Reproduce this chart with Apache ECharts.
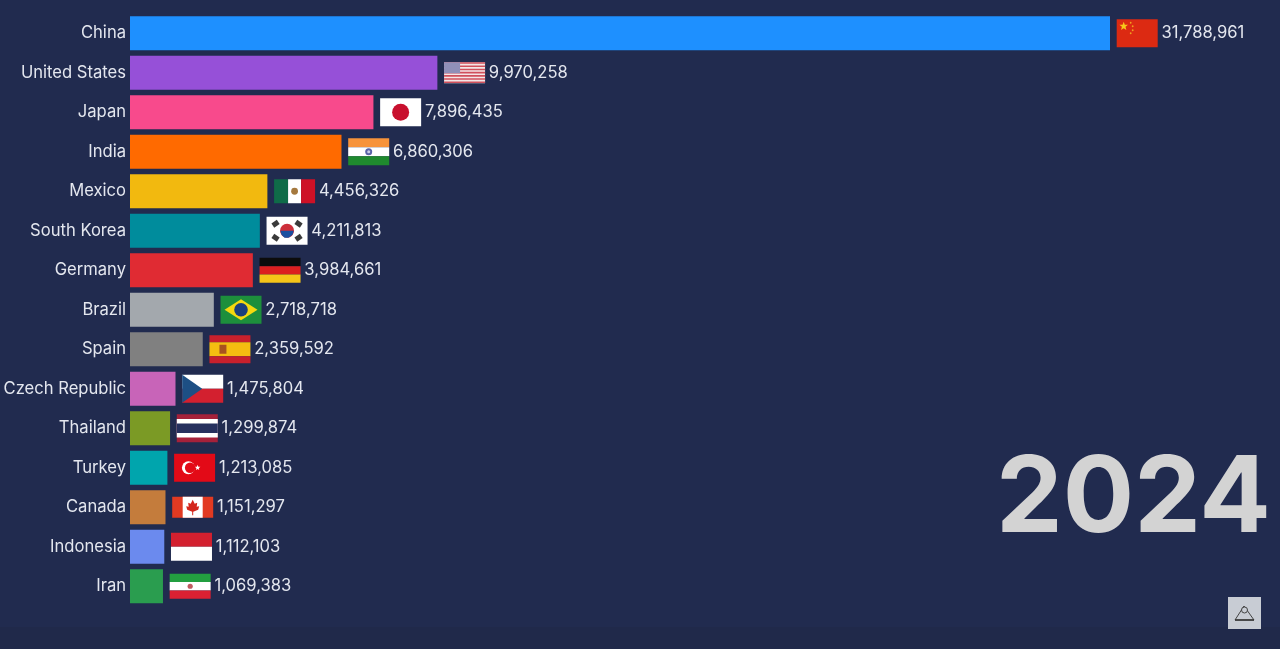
<!DOCTYPE html>
<html>
<head>
<meta charset="utf-8">
<title>Top countries 2024</title>
<script src="https://cdn.jsdelivr.net/npm/echarts@6/dist/echarts.min.js"></script>
<style>
  html, body { margin: 0; padding: 0; background: #212b4f; }
  #bar-chart { width: 1280px; height: 649px; }
</style>
</head>
<body>
<div id="bar-chart"></div>
<script>
var categories = ['China', 'United States', 'Japan', 'India', 'Mexico', 'South Korea', 'Germany', 'Brazil', 'Spain', 'Czech Republic', 'Thailand', 'Turkey', 'Canada', 'Indonesia', 'Iran'];
var values = [31788961, 9970258, 7896435, 6860306, 4456326, 4211813, 3984661, 2718718, 2359592, 1475804, 1299874, 1213085, 1151297, 1112103, 1069383];
var year = '2024';

var barColors = ['#1e90ff', '#9650d8', '#f84a8c', '#ff6a00', '#f2b90f', '#008c9c', '#e02b33', '#a3a8ad', '#808080', '#c864b8', '#7b9a25', '#00a5ad', '#c47c3c', '#6b8aee', '#2a9d4f'];

// ==============================================================
// small helpers for the flags (local coords inside one flag)
// ==============================================================
function rect(x, y, w, h, fill) {
  return { type: 'rect', shape: { x: x, y: y, width: w, height: h }, style: { fill: fill } };
}
function circle(cx, cy, r, fill) {
  return { type: 'circle', shape: { cx: cx, cy: cy, r: r }, style: { fill: fill } };
}
function poly(points, fill) {
  return { type: 'polygon', shape: { points: points }, style: { fill: fill } };
}
function star(cx, cy, r, fill) {
  var pts = [];
  for (var i = 0; i < 10; i++) {
    var a = -Math.PI / 2 + i * Math.PI / 5;
    var rr = i % 2 ? r * 0.42 : r;
    pts.push([cx + rr * Math.cos(a), cy + rr * Math.sin(a)]);
  }
  return poly(pts, fill);
}
function bars(x, y, w, h, angle, fill) {
  var el = rect(-w / 2, -h / 2, w, h, fill);
  el.x = x; el.y = y; el.rotation = angle;
  return el;
}
function usStripes() {
  var out = [rect(0, 0, 41, 21, '#f4e6e6')];
  for (var i = 0; i < 7; i++) out.push(rect(0, i * 3.2, 41, 1.6, '#d0505c'));
  out.push(rect(0, 0, 16, 11, '#8f8fb8'));
  return out;
}

var flags = {
  'China': { h: 28, draw: function () { return [rect(0, 0, 41, 28, '#dc2a12'), star(7, 7, 4.5, '#f7c81a'), circle(14, 3.5, 0.9, '#f0a020'), circle(16, 7, 0.9, '#f0a020'), circle(16, 11, 0.9, '#f0a020'), circle(14, 14, 0.9, '#f0a020')]; } },
  'United States': { h: 21, draw: usStripes },
  'Japan': { h: 28, draw: function () { return [rect(0, 0, 41, 28, '#ffffff'), circle(20.5, 14, 8.5, '#c8102e')]; } },
  'India': { h: 27, draw: function () { return [rect(0, 0, 41, 9, '#f7933a'), rect(0, 9, 41, 9, '#ffffff'), rect(0, 18, 41, 9, '#1f8a2e'), circle(20.5, 13.5, 3.5, '#5a63a8'), circle(20.5, 13.5, 1.5, '#c9cce6')]; } },
  'Mexico': { h: 24, draw: function () { return [rect(0, 0, 14, 24, '#0f6b48'), rect(14, 0, 13, 24, '#ffffff'), rect(27, 0, 14, 24, '#ce1126'), circle(20.5, 12, 3.4, '#a5793e')]; } },
  'South Korea': { h: 28, draw: function () { return [
    rect(0, 0, 41, 28, '#ffffff'),
    circle(20.5, 14, 7, '#cd2e3a'), poly([[13.8, 14], [27.2, 14], [26, 18], [22, 21], [18, 21], [15, 18]], '#1a4fa0'),
    bars(9, 7, 6.5, 5, 0.6, '#3a3a3a'), bars(32, 7, 6.5, 5, -0.6, '#3a3a3a'),
    bars(9, 21, 6.5, 5, -0.6, '#3a3a3a'), bars(32, 21, 6.5, 5, 0.6, '#3a3a3a')
  ]; } },
  'Germany': { h: 25, draw: function () { return [rect(0, 0, 41, 8.4, '#0c0c0c'), rect(0, 8.4, 41, 8.3, '#dc1f1f'), rect(0, 16.7, 41, 8.3, '#f5c518')]; } },
  'Brazil': { h: 28, draw: function () { return [rect(0, 0, 41, 28, '#1d8f3c'), poly([[20.5, 3.5], [37, 14], [20.5, 24.5], [4, 14]], '#f4d90f'), circle(20.5, 14, 6.8, '#1c3f7c')]; } },
  'Spain': { h: 28, draw: function () { return [rect(0, 0, 41, 7, '#c8202c'), rect(0, 7, 41, 14, '#f5bd10'), rect(0, 21, 41, 7, '#c8202c'), rect(10, 9.5, 7, 9, '#a8521e')]; } },
  'Czech Republic': { h: 28, draw: function () { return [rect(0, 0, 41, 14, '#ffffff'), rect(0, 14, 41, 14, '#d3202f'), poly([[0, 0], [20, 14], [0, 28]], '#1d4f84')]; } },
  'Thailand': { h: 28, draw: function () { return [rect(0, 0, 41, 28, '#a5213a'), rect(0, 4.7, 41, 18.6, '#ffffff'), rect(0, 9.3, 41, 9.4, '#26305e')]; } },
  'Turkey': { h: 28, draw: function () { return [rect(0, 0, 41, 28, '#e30a17'), circle(14.3, 14, 6.5, '#ffffff'), circle(16, 14, 5.2, '#e30a17'), star(23.5, 14, 2.9, '#ffffff')]; } },
  'Canada': { h: 21, draw: function () { return [rect(0, 0, 41, 21, '#e23a22'), rect(10.5, 0, 20, 21, '#ffffff'), poly([[20.5, 3], [22.5, 7], [25, 6], [24.5, 10], [27, 9.5], [26, 13], [21, 15], [21, 18.5], [20, 18.5], [20, 15], [15, 13], [14, 9.5], [16.5, 10], [16, 6], [18.5, 7]], '#d4261c')]; } },
  'Indonesia': { h: 28, draw: function () { return [rect(0, 0, 41, 14, '#d3202f'), rect(0, 14, 41, 14, '#ffffff')]; } },
  'Iran': { h: 25, draw: function () { return [rect(0, 0, 41, 8.3, '#239f40'), rect(0, 8.3, 41, 8.4, '#ffffff'), rect(0, 16.7, 41, 8.3, '#da2032'), circle(20.5, 12.5, 2.6, '#c05a60')]; } }
};

function renderFlag(params, api) {
  var name = categories[params.dataIndex];
  var flag = flags[name];
  var end = api.coord([api.value(0), api.value(1)]);
  return {
    type: 'group',
    x: end[0] + 6.7,
    y: end[1] - flag.h / 2,
    children: flag.draw()
  };
}

var myChart = echarts.init(document.getElementById('bar-chart'));

var option = {
  animation: false,
  backgroundColor: '#212b4f',
  grid: { left: 130, right: 170, top: 13.5, height: 592.5, outerBoundsMode: 'none' },
  xAxis: { type: 'value', min: 0, max: 31788961, show: false },
  yAxis: {
    type: 'category',
    inverse: true,
    data: categories,
    axisLine: { show: false },
    axisTick: { show: false },
    axisLabel: { color: '#e4e7ef', fontFamily: 'Inter', fontSize: 16.6, margin: 4, padding: [0, 0, 5, 0] }
  },
  series: [
    {
      type: 'bar',
      barWidth: 34,
      data: values.map(function (v, i) { return { value: v, itemStyle: { color: barColors[i] } }; }),
      label: {
        show: true,
        position: 'right',
        distance: 51.5,
        color: '#e4e7ef',
        fontFamily: 'Inter',
        fontSize: 16.6,
        padding: [0, 0, 5, 0],
        formatter: function (p) { return p.value.toLocaleString('en-US'); }
      }
    },
    {
      type: 'custom',
      renderItem: renderFlag,
      clip: false,
      encode: { x: 0, y: 1 },
      data: values.map(function (v, i) { return [v, i]; }),
      z: 5
    }
  ],
  graphic: [
    { type: 'rect', z: -1, shape: { x: 0, y: 627, width: 1280, height: 22 }, style: { fill: '#20294a' } },
    { type: 'text', style: { x: 1271, y: 500.5, text: year, fill: '#d3d3d3', font: '700 106px Inter', textAlign: 'right', textVerticalAlign: 'middle' } },
    { type: 'rect', shape: { x: 1228, y: 597, width: 33, height: 32 }, style: { fill: '#c8ccd4' } },
    { type: 'polygon', shape: { points: [[1235, 620], [1244, 606], [1254, 620]] }, style: { fill: 'none', stroke: '#444', lineWidth: 1 } },
    { type: 'circle', shape: { cx: 1244.5, cy: 610, r: 3 }, style: { fill: '#c8ccd4', stroke: '#444', lineWidth: 1 } },
    { type: 'line', shape: { x1: 1235, y1: 620, x2: 1254, y2: 620 }, style: { stroke: '#333', lineWidth: 1.5 } }
  ]
};

myChart.setOption(option, true);
</script>
</body>
</html>
